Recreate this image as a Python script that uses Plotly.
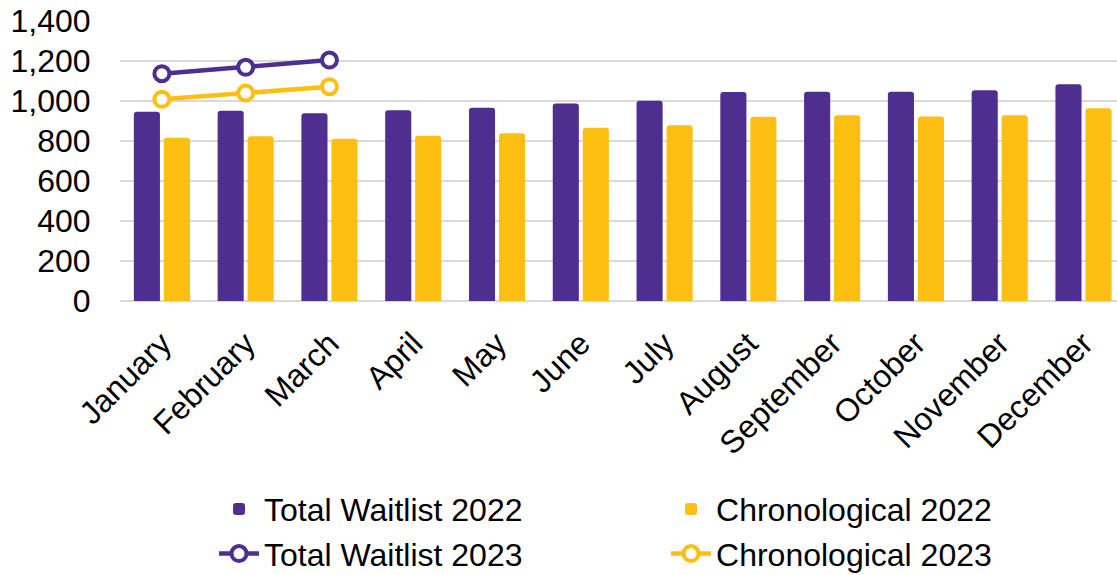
import plotly.graph_objects as go

months = ["January", "February", "March", "April", "May", "June", "July",
          "August", "September", "October", "November", "December"]
total_2022 = [945, 950, 937, 952, 965, 986, 1000, 1043, 1045, 1045, 1052, 1082]
chrono_2022 = [815, 823, 810, 825, 837, 865, 877, 920, 927, 921, 927, 963]
months_2023 = ["January", "February", "March"]
total_2023 = [1135, 1167, 1203]
chrono_2023 = [1007, 1038, 1070]
y_ticks = [0, 200, 400, 600, 800, 1000, 1200, 1400]

PURPLE = "#4E2E8F"
YELLOW = "#FDBF11"
FONT = "Liberation Sans, Arial, sans-serif"
FS = 32

fig = go.Figure()
fig.add_trace(go.Bar(x=months, y=total_2022, name="Total Waitlist 2022",
                     marker=dict(color=PURPLE, line=dict(width=0))))
fig.add_trace(go.Bar(x=months, y=chrono_2022, name="Chronological 2022",
                     marker=dict(color=YELLOW, line=dict(width=0))))
fig.add_trace(go.Scatter(x=months_2023, y=total_2023, name="Total Waitlist 2023",
                         mode="lines+markers",
                         line=dict(color=PURPLE, width=4.5),
                         marker=dict(symbol="circle", size=15, color="white",
                                     line=dict(color=PURPLE, width=4))))
fig.add_trace(go.Scatter(x=months_2023, y=chrono_2023, name="Chronological 2023",
                         mode="lines+markers",
                         line=dict(color=YELLOW, width=4.5),
                         marker=dict(symbol="circle", size=15, color="white",
                                     line=dict(color=YELLOW, width=4))))

fig.update_layout(
    width=1117, height=575,
    margin=dict(l=120, r=0, t=20, b=274, autoexpand=False),
    paper_bgcolor="white", plot_bgcolor="white",
    font=dict(family=FONT, size=FS, color="black"),
    barmode="group", bargap=0.284, bargroupgap=0.13, barcornerradius=3,
    showlegend=True,
    legend=dict(orientation="h", x=0.0943, xanchor="left",
                y=-0.643, yanchor="top",
                entrywidth=397, entrywidthmode="pixels",
                traceorder="normal", font=dict(size=FS, family=FONT),
                bgcolor="rgba(0,0,0,0)", tracegroupgap=0, itemwidth=40),
)
fig.update_xaxes(type="category", categoryorder="array", categoryarray=months,
                 range=[-0.5, 11.4], tickangle=-45, showgrid=False,
                 showline=False, ticks="outside", ticklen=10,
                 tickcolor="rgba(0,0,0,0)", automargin=False,
                 tickfont=dict(size=FS, family=FONT))
fig.update_yaxes(range=[0, 1403], tickvals=y_ticks, tickformat=",",
                 showgrid=True, gridcolor="#D9D9D9", gridwidth=2,
                 zeroline=True, zerolinecolor="#D9D9D9", zerolinewidth=2,
                 showline=False, ticks="outside", ticklen=22, automargin=False,
                 tickcolor="rgba(0,0,0,0)", tickfont=dict(size=FS, family=FONT))

fig.write_html("out.html",
               config={"displayModeBar": False},
               post_script="document.body.style.margin='0';")
